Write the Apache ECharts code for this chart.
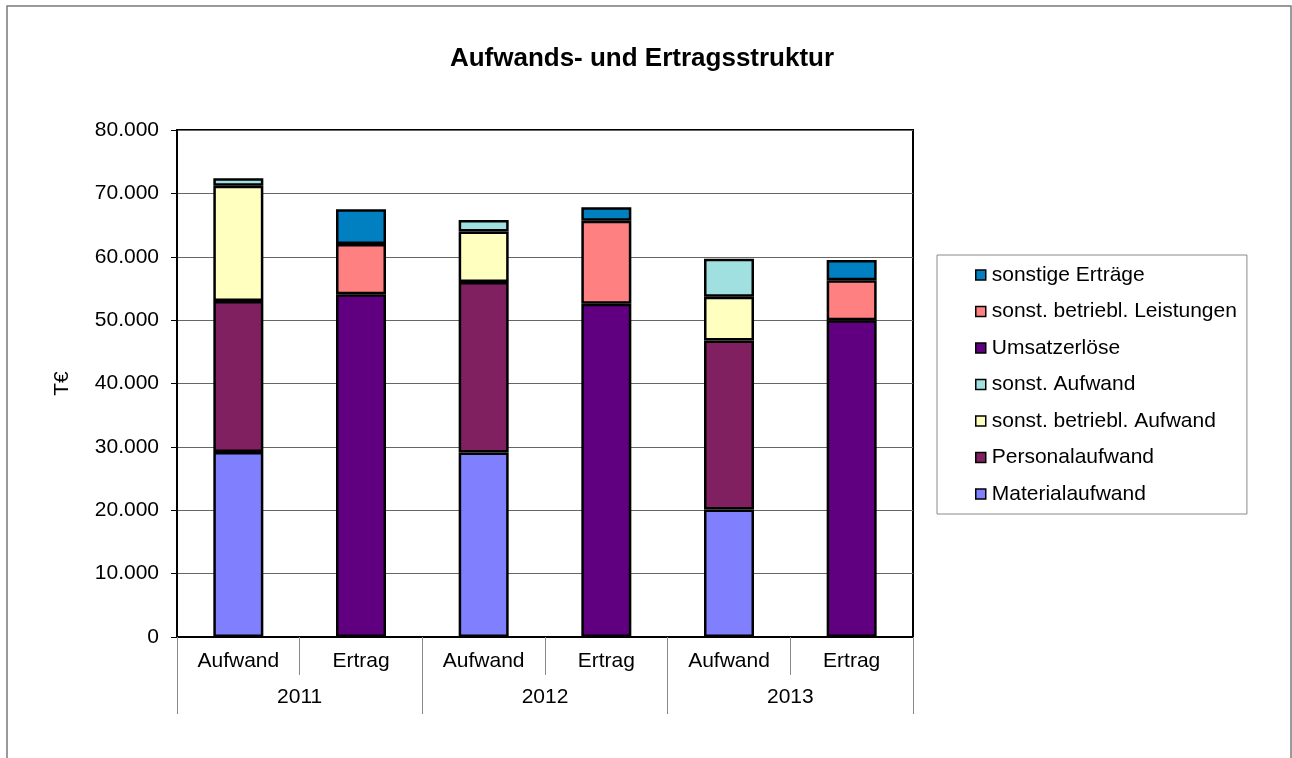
<!DOCTYPE html>
<html>
<head>
<meta charset="utf-8">
<script src="https://cdn.jsdelivr.net/npm/echarts@6/dist/echarts.min.js"></script>
<style>
  html, body { margin: 0; padding: 0; background: #fff; }
  #chart { width: 1292px; height: 758px; }
</style>
</head>
<body>
<div id="chart"></div>
<script>
// Categories: type of bar per year, and the years underneath
const kinds = ['Aufwand', 'Ertrag', 'Aufwand', 'Ertrag', 'Aufwand', 'Ertrag'];
const years = ['2011', '2012', '2013'];

// Values in T€ (null where a component does not belong to the bar)
const materialaufwand   = [29200, null, 29100, null, 20100, null];
const personalaufwand   = [23800, null, 26900, null, 26700, null];
const sonstBetrAufwand  = [18200, null,  8000, null,  6900, null];
const sonstAufwand      = [ 1200, null,  1800, null,  6000, null];
const umsatzerloese     = [null, 54100, null, 52600, null, 50000];
const sonstBetrLeist    = [null,  7900, null, 13100, null,  6300];
const sonstigeErtraege  = [null,  5500, null,  2100, null,  3200];

const yTicks = [0, 10000, 20000, 30000, 40000, 50000, 60000, 70000, 80000];

const FONT = '"Liberation Sans", Arial, sans-serif';

const stackDefs = [
  { name: 'Materialaufwand', data: materialaufwand, color: '#8080FF' },
  { name: 'Personalaufwand', data: personalaufwand, color: '#802060' },
  { name: 'sonst. betriebl. Aufwand', data: sonstBetrAufwand, color: '#FFFFC0' },
  { name: 'sonst. Aufwand', data: sonstAufwand, color: '#A0E0E0' },
  { name: 'Umsatzerlöse', data: umsatzerloese, color: '#600080' },
  { name: 'sonst. betriebl. Leistungen', data: sonstBetrLeist, color: '#FF8080' },
  { name: 'sonstige Erträge', data: sonstigeErtraege, color: '#0080C0' }
];

const fmt = v => v === 0 ? '0' : (v / 1000).toFixed(0) + '.000';

const chart = echarts.init(document.getElementById('chart'), null, { renderer: 'canvas' });

chart.setOption({
  animation: false,
  backgroundColor: '#fff',
  title: {
    text: 'Aufwands- und Ertragsstruktur',
    left: 637, top: 41, textAlign: 'center',
    textStyle: { fontFamily: FONT, fontSize: 26, fontWeight: 'bold', color: '#000' }
  },
  graphic: [{
    type: 'rect', z: -1,
    shape: { x: 7, y: 6, width: 1284, height: 780 },
    style: { fill: 'none', stroke: '#7a7a7a', lineWidth: 1.5 }
  }],
  legend: {
    orient: 'vertical',
    left: 937, top: 255,
    padding: [9, 10, 9, 38],
    backgroundColor: '#fff',
    borderColor: '#8a8a8a', borderWidth: 1,
    itemWidth: 10, itemHeight: 10, itemGap: 14.5,
    icon: 'rect',
    itemStyle: { borderColor: '#000', borderWidth: 1.5 },
    textStyle: { fontFamily: FONT, fontSize: 21, color: '#000', lineHeight: 22, padding: [0, 0, 0, 1] },
    data: stackDefs.map(d => d.name).reverse()
  },
  grid: {
    left: 177, top: 130, width: 736, height: 507,
    show: true, borderColor: '#000', borderWidth: 2, backgroundColor: '#fff'
  },
  xAxis: [{
    type: 'category', data: kinds, position: 'bottom',
    axisLine: { show: true, lineStyle: { color: '#000', width: 2 } },
    axisTick: { show: true, length: 38, alignWithLabel: false, lineStyle: { color: '#888', width: 1 } },
    axisLabel: { fontFamily: FONT, fontSize: 21, color: '#000', margin: 14 }
  }, {
    type: 'category', data: years, position: 'bottom',
    gridIndex: 0,
    axisLine: { show: false },
    axisTick: { show: true, length: 77, lineStyle: { color: '#888', width: 1 } },
    axisLabel: { fontFamily: FONT, fontSize: 21, color: '#000', margin: 50 }
  }],
  yAxis: {
    type: 'value', min: 0, max: 80000, interval: 10000,
    name: 'T€', nameLocation: 'middle', nameGap: 104, nameRotate: 90,
    nameTextStyle: { fontFamily: FONT, fontSize: 21, color: '#000' },
    axisLine: { show: true, lineStyle: { color: '#000', width: 2 } },
    axisTick: { show: true, length: 6, lineStyle: { color: '#000', width: 1 } },
    axisLabel: {
      fontFamily: FONT, fontSize: 21, color: '#000', margin: 18,
      formatter: v => yTicks.includes(v) ? fmt(v) : ''
    },
    splitLine: { show: true, lineStyle: { color: '#666', width: 1 } }
  },
  series: stackDefs.map(d => ({
    name: d.name,
    type: 'bar',
    stack: 'total',
    xAxisIndex: 0,
    barWidth: 50,
    data: d.data,
    itemStyle: { color: d.color, borderColor: '#000', borderWidth: 2.5 },
    emphasis: { disabled: true }
  }))
});
</script>
</body>
</html>
